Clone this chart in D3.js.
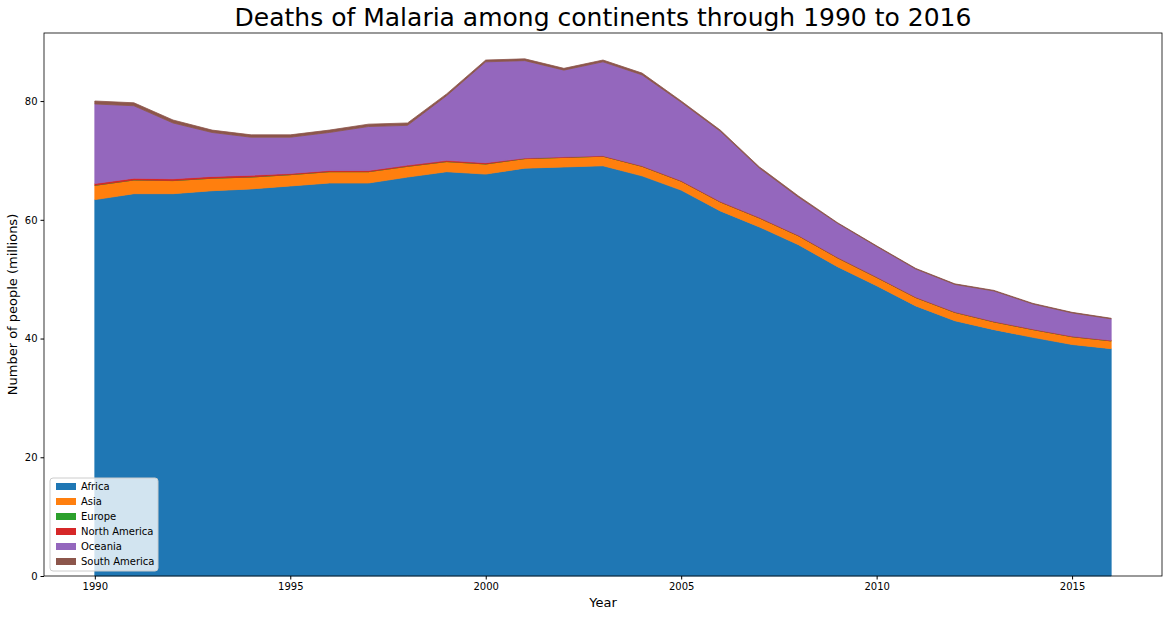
<!DOCTYPE html>
<html><head><meta charset="utf-8">
<script src="https://cdn.jsdelivr.net/npm/d3@7"></script>
<style>body{margin:0;background:#fff;font-family:"DejaVu Sans",sans-serif;}</style>
</head><body><svg></svg>
<script>
const years = d3.range(1990, 2017);
const continents = ["Africa", "Asia", "Europe", "North America", "Oceania", "South America"];
const colors = ["#1f77b4", "#ff7f0e", "#2ca02c", "#d62728", "#9467bd", "#8c564b"];
const africa = [63.4,64.4,64.4,64.9,65.2,65.7,66.2,66.2,67.2,68.1,67.7,68.7,68.9,69.1,67.4,65.0,61.5,58.8,55.8,52.1,48.9,45.5,43.0,41.5,40.2,39.0,38.3];
const asia = [2.4,2.3,2.2,2.1,2.0,1.9,1.9,1.9,1.8,1.7,1.7,1.6,1.6,1.6,1.6,1.5,1.5,1.5,1.5,1.5,1.4,1.4,1.4,1.3,1.3,1.3,1.3];
const europe = [0.01,0.01,0.01,0.01,0.01,0.01,0.01,0.01,0.01,0.01,0.01,0.01,0.01,0.01,0.01,0.01,0.01,0.01,0.01,0.01,0.01,0.01,0.01,0.01,0.01,0.01,0.01];
const northAmerica = [0.3,0.3,0.3,0.3,0.3,0.2,0.2,0.2,0.2,0.2,0.2,0.1,0.1,0.1,0.1,0.1,0.1,0.1,0.1,0.1,0.1,0.1,0.1,0.1,0.1,0.1,0.1];
const oceania = [13.4,12.2,9.4,7.4,6.4,6.1,6.4,7.4,6.7,10.9,17.0,16.4,14.6,15.8,15.3,13.2,11.8,8.3,6.4,5.7,5.1,4.7,4.6,5.1,4.2,3.9,3.6];
const southAmerica = [0.5,0.5,0.5,0.4,0.4,0.4,0.4,0.4,0.4,0.3,0.3,0.3,0.3,0.3,0.3,0.2,0.2,0.2,0.2,0.1,0.1,0.1,0.1,0.1,0.1,0.1,0.1];
const xTicks = [1990, 1995, 2000, 2005, 2010, 2015];
const yTicks = [0, 20, 40, 60, 80];

const series = [africa, asia, europe, northAmerica, oceania, southAmerica];
const rows = years.map((y, i) => {
  const r = { year: y };
  continents.forEach((c, k) => r[c] = series[k][i]);
  return r;
});

const width = 1167, height = 617;
const m = { left: 44, right: 5, top: 33, bottom: 41 };
const svg = d3.select("svg").attr("width", width).attr("height", height);

const stacked = d3.stack().keys(continents)(rows);
const maxY = d3.max(stacked[stacked.length - 1], d => d[1]);
const x = d3.scaleLinear().domain([1990 - 1.3, 2016 + 1.3]).range([m.left, width - m.right]);
const y = d3.scaleLinear().domain([0, maxY * 1.05]).range([height - m.bottom, m.top]);

const area = d3.area().x(d => x(d.data.year)).y0(d => y(d[0])).y1(d => y(d[1]));
svg.append("g").selectAll("path").data(stacked).join("path")
  .attr("d", area)
  .attr("fill", (d, i) => colors[i])
  .attr("stroke", (d, i) => colors[i])
  .attr("stroke-width", 0.8);

svg.append("g").attr("transform", "translate(0," + (height - m.bottom) + ")")
  .call(d3.axisBottom(x).tickValues(xTicks).tickFormat(d3.format("d")).tickSize(3.5).tickSizeOuter(0))
  .call(g => g.select(".domain").remove())
  .selectAll("text").attr("font-size", 10).attr("font-family", "DejaVu Sans");
svg.append("g").attr("transform", "translate(" + m.left + ",0)")
  .call(d3.axisLeft(y).tickValues(yTicks).tickSize(3.5).tickSizeOuter(0))
  .call(g => g.select(".domain").remove())
  .selectAll("text").attr("font-size", 10).attr("font-family", "DejaVu Sans");

svg.append("rect").attr("x", m.left).attr("y", m.top)
  .attr("width", width - m.left - m.right).attr("height", height - m.top - m.bottom)
  .attr("fill", "none").attr("stroke", "#000").attr("stroke-width", 0.8);

svg.append("text").attr("x", (m.left + width - m.right) / 2).attr("y", 26)
  .attr("text-anchor", "middle").attr("font-size", 25).text("Deaths of Malaria among continents through 1990 to 2016");
svg.append("text").attr("x", (m.left + width - m.right) / 2).attr("y", 607)
  .attr("text-anchor", "middle").attr("font-size", 13).text("Year");
svg.append("text").attr("transform", "translate(17," + ((m.top + height - m.bottom) / 2) + ") rotate(-90)")
  .attr("text-anchor", "middle").attr("font-size", 13).text("Number of people (millions)");

const lg = svg.append("g").attr("transform", "translate(50,478)");
lg.append("rect").attr("width", 108).attr("height", 93).attr("rx", 3)
  .attr("fill", "rgba(255,255,255,0.8)").attr("stroke", "#ccc");
continents.forEach((c, i) => {
  lg.append("rect").attr("x", 6).attr("y", 5 + i * 15).attr("width", 20).attr("height", 7).attr("fill", colors[i]);
  lg.append("text").attr("x", 31).attr("y", 12 + i * 15).attr("font-size", 10).text(c);
});
</script></body></html>
